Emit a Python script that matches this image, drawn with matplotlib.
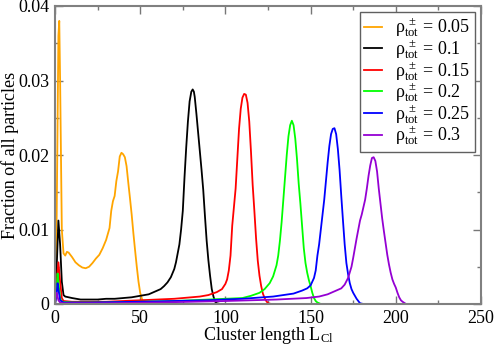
import matplotlib
matplotlib.use("Agg")
import matplotlib.pyplot as plt
from matplotlib.ticker import MultipleLocator

plt.rcParams['font.family'] = ['Liberation Serif', 'DejaVu Serif']
plt.rcParams['mathtext.fontset'] = 'custom'
plt.rcParams['mathtext.rm'] = 'Liberation Serif'
plt.rcParams['mathtext.it'] = 'Liberation Serif:italic'

labels = ["0.05", "0.1", "0.15", "0.2", "0.25", "0.3"]
colors = ["#FFA500", "#000000", "#FF0000", "#00FF00", "#0000FF", "#9400D3"]

x_005 = [0, 1, 2, 2.5, 3, 4, 5, 6, 7, 8, 10, 12, 14, 16, 18, 20, 22, 24, 26, 28, 30, 32, 33, 34, 35, 36, 37, 38, 39, 40, 41, 42, 43, 44, 45, 46, 47, 48, 49, 50, 51, 52, 54, 250]
y_005 = [0.0, 0.012, 0.036, 0.038, 0.030, 0.010, 0.0068, 0.0065, 0.0070, 0.0069, 0.0063, 0.0056, 0.0052, 0.0049, 0.0048, 0.0050, 0.0055, 0.0061, 0.0066, 0.0075, 0.0086, 0.0102, 0.0125, 0.0138, 0.0145, 0.0165, 0.0178, 0.0198, 0.0203, 0.0201, 0.0197, 0.0185, 0.0163, 0.0142, 0.0120, 0.0095, 0.0072, 0.0050, 0.0030, 0.0015, 0.0007, 0.0002, 0.0, 0.0]

x_01 = [0, 1, 2, 3, 4, 5, 6, 8, 10, 15, 20, 25, 30, 35, 40, 45, 50, 55, 58, 60, 62, 64, 66, 68, 70, 71, 72, 73, 74, 75, 76, 77, 78, 79, 80, 80.8, 81.5, 82, 83, 84, 85, 86, 87, 88, 89, 90, 91, 92, 93, 94, 95, 97, 250]
y_01 = [0.0, 0.005, 0.0112, 0.008, 0.003, 0.0012, 0.0010, 0.0009, 0.0008, 0.0006, 0.0006, 0.0006, 0.0007, 0.0007, 0.0008, 0.0009, 0.0011, 0.0013, 0.0016, 0.0018, 0.0020, 0.0024, 0.0029, 0.0036, 0.0047, 0.0056, 0.0068, 0.0080, 0.0100, 0.0125, 0.0170, 0.0210, 0.0245, 0.0272, 0.0285, 0.0288, 0.0285, 0.0278, 0.0255, 0.0230, 0.0205, 0.0180, 0.0153, 0.0118, 0.0085, 0.0059, 0.0038, 0.0020, 0.0010, 0.0003, 0.0001, 0.0, 0.0]

x_015 = [0, 1, 2, 3, 4, 5, 10, 20, 30, 40, 50, 60, 70, 80, 85, 90, 95, 98, 100, 101, 102, 103, 104, 105, 106, 107, 108, 109, 110, 111, 112, 113, 114, 115, 116, 117, 118, 119, 120, 121, 122, 123, 124, 125, 127, 250]
y_015 = [0.0, 0.003, 0.0056, 0.003, 0.0008, 0.0004, 0.0003, 0.0003, 0.0003, 0.0004, 0.0005, 0.0006, 0.0007, 0.0009, 0.0010, 0.0012, 0.0016, 0.0020, 0.0027, 0.0033, 0.0045, 0.0065, 0.0105, 0.0130, 0.0155, 0.0195, 0.0235, 0.0262, 0.0277, 0.0282, 0.0281, 0.0270, 0.0245, 0.0205, 0.0160, 0.0125, 0.0088, 0.0058, 0.0038, 0.0024, 0.0014, 0.0008, 0.0004, 0.0001, 0.0, 0.0]

x_02 = [0, 1, 1.5, 2, 3, 4, 10, 30, 50, 70, 90, 100, 110, 115, 120, 123, 126, 128, 130, 131, 132, 133, 134, 135, 136, 137, 138, 139, 140, 141, 142, 143, 144, 145, 146, 147, 148, 149, 150, 151, 152, 153, 154, 156, 250]
y_02 = [0.0, 0.002, 0.0041, 0.003, 0.0008, 0.0003, 0.0002, 0.0002, 0.0003, 0.0004, 0.0006, 0.0007, 0.0008, 0.0011, 0.0015, 0.0020, 0.0028, 0.0037, 0.0052, 0.0065, 0.0085, 0.0110, 0.0140, 0.0170, 0.0200, 0.0225, 0.0240, 0.0246, 0.0240, 0.0222, 0.0195, 0.0162, 0.0135, 0.0105, 0.0075, 0.0055, 0.0042, 0.0032, 0.0024, 0.0015, 0.0008, 0.0004, 0.0002, 0.0, 0.0]

x_025 = [0, 1, 1.5, 2, 3, 5, 20, 50, 89, 110, 128, 140, 145, 148, 150, 152, 153, 154, 155, 156, 157, 158, 159, 160, 161, 162, 163, 164, 165, 166, 167, 168, 169, 170, 171, 172, 173, 174, 175, 176, 177, 178, 179, 181, 250]
y_025 = [0.0, 0.0015, 0.0028, 0.002, 0.0005, 0.0002, 0.0002, 0.0003, 0.0005, 0.0007, 0.0010, 0.0014, 0.0018, 0.0021, 0.0025, 0.0035, 0.0045, 0.0065, 0.0080, 0.0100, 0.0120, 0.0140, 0.0165, 0.0190, 0.0212, 0.0228, 0.0235, 0.0236, 0.0228, 0.0208, 0.0180, 0.0145, 0.0112, 0.0080, 0.0055, 0.0040, 0.0028, 0.0020, 0.0015, 0.0011, 0.0007, 0.0004, 0.0001, 0.0, 0.0]

x_03 = [0, 0.5, 1, 2, 3, 5, 30, 60, 100, 130, 147.6, 155, 160, 165, 168, 170, 172, 174, 175, 176, 177, 178, 179, 180, 181, 182, 183, 184, 185, 186, 187, 188, 189, 190, 191, 192, 193, 194, 195, 196, 197, 198, 199, 200, 201, 202, 203, 204, 206, 250]
y_03 = [0.0, 0.001, 0.0015, 0.0005, 0.0002, 0.0001, 0.0001, 0.0002, 0.0004, 0.0006, 0.0008, 0.0010, 0.0013, 0.0018, 0.0021, 0.0026, 0.0035, 0.0050, 0.0062, 0.0075, 0.0088, 0.0100, 0.0112, 0.0120, 0.0130, 0.0140, 0.0155, 0.0172, 0.0186, 0.0196, 0.0197, 0.0192, 0.0178, 0.0155, 0.0135, 0.0115, 0.0098, 0.0082, 0.0066, 0.0053, 0.0042, 0.0033, 0.0027, 0.0022, 0.0015, 0.0009, 0.0005, 0.0003, 0.0, 0.0]

series = [(x_005, y_005), (x_01, y_01), (x_015, y_015), (x_02, y_02), (x_025, y_025), (x_03, y_03)]

fig = plt.figure(figsize=(4.95, 3.46), dpi=100)
ax = fig.add_axes([55/495, 42/346, 426/495, 298/346])

for (xs, ys), lab, c in zip(series, labels, colors):
    ax.plot(xs, ys, color=c, lw=1.3,
            label=r'$\mathrm{\rho}^{\ \pm}_{\mathrm{tot}}$ = ' + lab)

ax.set_xlim(0, 250)
ax.set_ylim(0, 0.04)
ax.xaxis.set_major_locator(MultipleLocator(50))
ax.xaxis.set_minor_locator(MultipleLocator(25))
ax.set_yticks([0, 0.01, 0.02, 0.03, 0.04])
ax.set_yticklabels(["0", "0.01", "0.02", "0.03", "0.04"])
ax.yaxis.set_minor_locator(MultipleLocator(0.005))
ax.tick_params(which='both', direction='in', top=True, right=True, labelsize=13, pad=4,
               color='#777777', width=1.0)
ax.tick_params(which='major', length=6)
ax.tick_params(which='minor', length=3)
for s in ax.spines.values():
    s.set_linewidth(1.5)
    s.set_color('#808080')

ax.set_xlabel(r'Cluster length L$_{\mathrm{Cl}}$', fontsize=13, labelpad=-1)
ax.set_ylabel('Fraction of all particles', fontsize=13)
ax.yaxis.set_label_coords(-0.085, 0.5)

leg = ax.legend(loc='upper right', fontsize=13, handlelength=1.0, handletextpad=0.7,
                labelspacing=-0.05, borderaxespad=0.35, borderpad=0.25, fancybox=False,
                framealpha=1)
leg.get_frame().set_edgecolor('#606060')
leg.get_frame().set_linewidth(1.0)

fig.savefig('out.png', dpi=100)
